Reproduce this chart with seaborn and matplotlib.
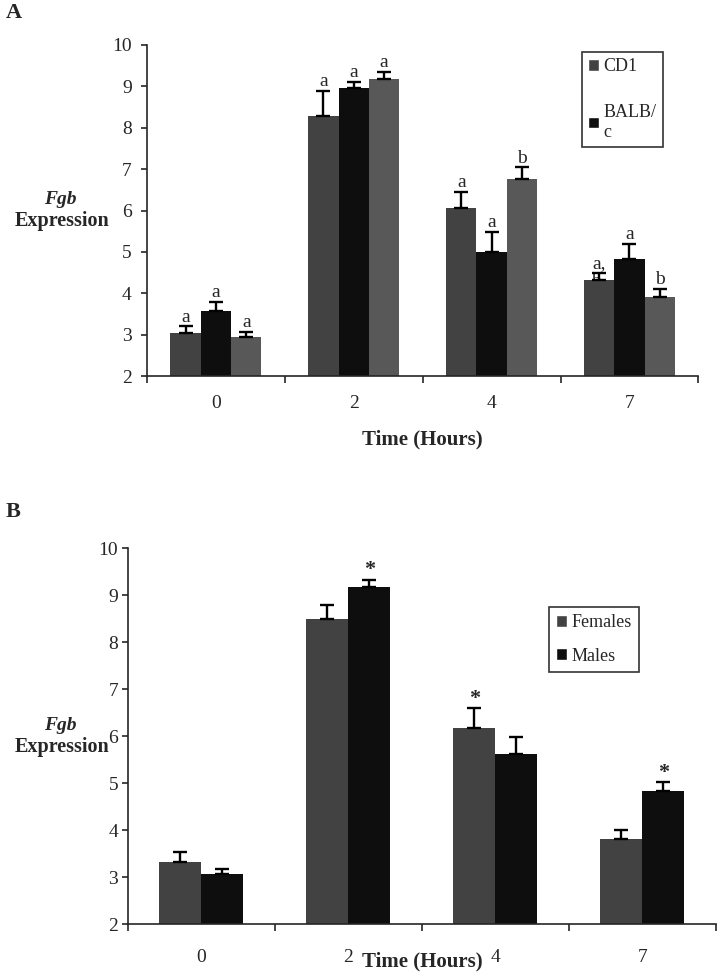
import numpy as np
import pandas as pd
import matplotlib
matplotlib.use("Agg")
import matplotlib.pyplot as plt
from matplotlib.patches import Patch
import seaborn as sns

# ---------------- data ----------------
times = ["0", "2", "4", "7"]

# Panel A
strains_a = ["CD1", "BALB/c", "Third"]
cd1_vals = [3.04, 8.28, 6.06, 4.32]
cd1_err = [0.16, 0.62, 0.39, 0.18]
balb_vals = [3.56, 8.95, 4.99, 4.84]
balb_err = [0.24, 0.16, 0.50, 0.36]
third_vals = [2.94, 9.18, 6.76, 3.90]
third_err = [0.12, 0.17, 0.28, 0.21]
cd1_lbl = ["a", "a", "a", "a,"]
balb_lbl = ["a", "a", "a", "a"]
third_lbl = ["a", "a", "b", "b"]

# Panel B
sexes = ["Females", "Males"]
fem_vals = [3.32, 8.50, 6.17, 3.81]
fem_err = [0.21, 0.29, 0.42, 0.19]
male_vals = [3.06, 9.16, 5.61, 4.83]
male_err = [0.12, 0.17, 0.37, 0.20]
fem_lbl = ["", "", "*", ""]
male_lbl = ["", "*", "", "*"]

# ---------------- style ----------------
sns.set_style("ticks")
plt.rcParams["font.family"] = ["Liberation Serif", "DejaVu Serif"]
plt.rcParams["axes.linewidth"] = 1.2

c_cd1 = "#424242"
c_balb = "#0e0e0e"
c_third = "#585858"

fig = plt.figure(figsize=(7.18, 9.8), dpi=100)
axA = fig.add_axes([0.2047, 0.6163, 0.768, 0.3378])
axB = fig.add_axes([0.178, 0.0571, 0.819, 0.3837])

df_a = pd.DataFrame({
    "time": times * 3,
    "value": cd1_vals + balb_vals + third_vals,
    "strain": [strains_a[0]] * 4 + [strains_a[1]] * 4 + [strains_a[2]] * 4,
})
df_b = pd.DataFrame({
    "time": times * 2,
    "value": fem_vals + male_vals,
    "sex": [sexes[0]] * 4 + [sexes[1]] * 4,
})

sns.barplot(data=df_a, x="time", y="value", hue="strain", hue_order=strains_a,
            palette=[c_cd1, c_balb, c_third], width=0.66, errorbar=None,
            legend=False, ax=axA, linewidth=0, saturation=1)
sns.barplot(data=df_b, x="time", y="value", hue="sex", hue_order=sexes,
            palette=[c_cd1, c_balb], width=0.57, errorbar=None,
            legend=False, ax=axB, linewidth=0, saturation=1)


def add_errors(ax, errs, labels, fs, bold=False, dy=0.02):
    for cont, es, lbs in zip(ax.containers, errs, labels):
        for bar, e, lb in zip(cont, es, lbs):
            x = bar.get_x() + bar.get_width() / 2
            y = bar.get_height()
            ax.errorbar(x, y, yerr=[[0], [e]], fmt="none", ecolor="black",
                        elinewidth=1.7, capsize=5, capthick=1.7, zorder=3)
            if lb:
                ax.text(x, y + e + dy, lb, ha="center", va="bottom",
                        fontsize=fs, fontweight="bold" if bold else "normal",
                        zorder=4)


add_errors(axA, [cd1_err, balb_err, third_err], [cd1_lbl, balb_lbl, third_lbl], 14)
add_errors(axB, [fem_err, male_err], [fem_lbl, male_lbl], 16, bold=True, dy=-0.02)

# partially hidden "b" below the "a," of CD1 at 7 h (mostly covered by the bar)
bar7 = axA.containers[0][3]
axA.text(bar7.get_x() + bar7.get_width() / 2 - 0.02, bar7.get_height() - 0.24, "b",
         ha="center", va="bottom", fontsize=14, zorder=0.5)

for ax in (axA, axB):
    ax.set_ylim(2, 10)
    ax.set_yticks(range(2, 11))
    ax.set_xlim(-0.5, 3.5)
    sns.despine(ax=ax)
    ax.set_ylabel("")
    ax.tick_params(axis="y", labelsize=14, length=4, width=1.2, direction="out")
    ax.tick_params(axis="x", labelsize=14, length=0)
    # ticks between categories
    ax.set_xticks([-0.5, 0.5, 1.5, 2.5, 3.5], minor=True)
    ax.tick_params(axis="x", which="minor", length=5, width=1.2, direction="out")

axA.tick_params(axis="y", pad=7)
axA.tick_params(axis="x", pad=14)
axB.tick_params(axis="y", pad=3)
axB.tick_params(axis="x", pad=18)

axA.set_xlabel("Time (Hours)", fontsize=15, fontweight="bold")
axA.xaxis.set_label_coords(0.5, -0.16)
axB.set_xlabel("Time (Hours)", fontsize=15, fontweight="bold")
axB.xaxis.set_label_coords(0.5, -0.074)

# y labels
for ax, yf, ye in ((axA, 200, 221), (axB, 725, 747)):
    fig.text(60 / 718, 1 - yf / 980, "Fgb", ha="center", va="center",
             fontsize=14, fontweight="bold", fontstyle="italic")
    fig.text(62 / 718, 1 - ye / 980, "Expression", ha="center", va="center",
             fontsize=14.5, fontweight="bold")

fig.text(6 / 718, 1 - 13 / 980, "A", ha="left", va="center", fontsize=16,
         fontweight="bold")
fig.text(6 / 718, 1 - 512 / 980, "B", ha="left", va="center", fontsize=16,
         fontweight="bold")

# legends
hA = [Patch(facecolor=c_cd1, label="CD1"), Patch(facecolor=c_balb, label="BALB/\nc")]
legA = axA.legend(handles=hA, loc="upper left", bbox_to_anchor=(0.789, 0.979),
                  fontsize=13, frameon=True, fancybox=False, edgecolor="black",
                  handlelength=0.6, handleheight=0.6, handletextpad=0.25,
                  labelspacing=1.6, borderpad=0.35, borderaxespad=0)
legA.get_frame().set_linewidth(1.2)

hB = [Patch(facecolor=c_cd1, label="Females"), Patch(facecolor=c_balb, label="Males")]
legB = axB.legend(handles=hB, loc="upper left", bbox_to_anchor=(0.716, 0.843),
                  fontsize=13, frameon=True, fancybox=False, edgecolor="black",
                  handlelength=0.6, handleheight=0.6, handletextpad=0.25,
                  labelspacing=0.9, borderpad=0.4, borderaxespad=0)
legB.get_frame().set_linewidth(1.2)

fig.savefig("out.png", dpi=100, facecolor="white")
